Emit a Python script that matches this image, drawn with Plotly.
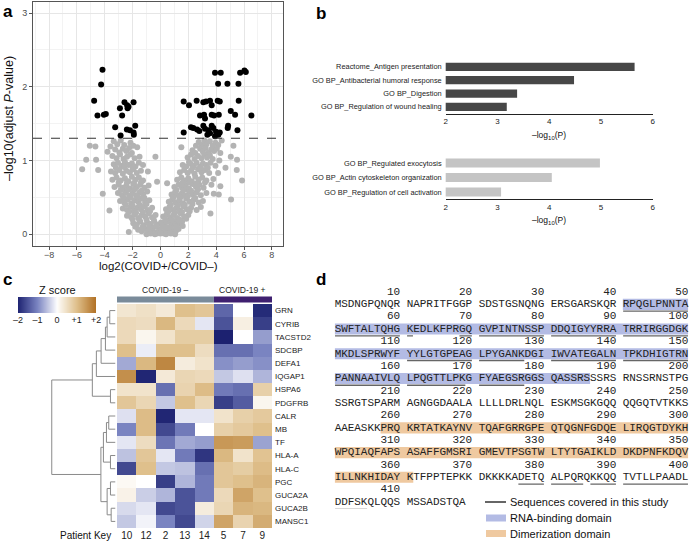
import math
import plotly.graph_objects as go

W, H = 694, 543
def px(x): return x / W
def py(y): return 1 - y / H

SANS = "Liberation Sans, Arial, sans-serif"
MONO = "Liberation Mono, Courier New, monospace"

# ---------------- Panel a: volcano data ----------------
sig_x = [-4.16, -4.26, -4.76, -4.52, -4.06, -3.92, -3.25, -2.91, -2.75, -2.58, -2.39, -2.29, -2.36,
         -2.41, -2.19, -1.93, -1.81, -1.93, -1.91, -2.86,
         3.92, 4.33, 5.72, 6.03, 6.13, 4.14, 4.81, 5.60, 1.67, 2.05, 2.60, 3.08, 3.27, 3.56, 3.68,
         4.11, 4.26, 5.62, 2.84, 3.13, 3.20, 3.68, 3.85, 4.19, 5.05, 5.36, 6.53, 2.19, 2.36, 2.63,
         2.79, 3.08, 3.20, 3.44, 3.68, 3.80, 3.99, 4.16, 4.26, 3.37, 3.56, 3.92, 4.86, 4.83, 5.53, 1.67]
sig_y = [2.23, 2.03, 1.81, 1.61, 1.62, 1.63, 1.45, 1.71, 1.61, 1.79, 1.75, 1.73, 1.71,
         1.42, 1.41, 1.79, 1.47, 1.38, 1.35, 1.34,
         2.19, 2.19, 2.19, 2.22, 2.20, 2.04, 2.04, 2.04, 1.80, 1.75, 1.81, 1.79, 1.80, 1.81, 1.75,
         1.81, 1.80, 1.81, 1.61, 1.62, 1.57, 1.62, 1.61, 1.62, 1.67, 1.62, 1.61, 1.45, 1.44, 1.42,
         1.40, 1.47, 1.43, 1.41, 1.47, 1.44, 1.39, 1.35, 1.38, 1.35, 1.37, 1.33, 1.47, 1.44, 1.41, 1.38]

ns_pts = [
    (-3.35,1.26),(-3.1,1.22),(-2.85,1.27),(-2.6,1.21),(-2.15,1.24),(-1.95,1.2),(2.75,1.25),(2.95,1.21),
    (3.15,1.27),(3.3,1.22),(3.55,1.26),(3.75,1.2),(3.95,1.24),(4.15,1.21),(4.4,1.27),(2.55,1.2),
    (5.24,1.2),(-5.07,1.2),(-4.67,1.19),(-3.59,1.19),(-1.67,1.18),(1.5,1.18),
    (-3.8,1.12),(-3.25,1.15),(-2.95,1.11),(-2.7,1.16),(-2.45,1.13),(-2.25,1.17),(-2.05,1.1),(2.3,1.14),
    (2.5,1.1),(2.85,1.16),(3.05,1.12),(3.25,1.17),(3.45,1.11),(3.65,1.15),(3.85,1.13),(4.05,1.16),(4.3,1.1),
    (-5.33,1.01),(-4.62,1.01),(-3.45,1.06),(-3.15,1.03),(-2.9,1.08),(-2.65,1.02),(-2.4,1.05),(-2.15,1.08),
    (-1.85,1.03),(-1.5,1.05),(-0.36,1.05),(1.95,1.04),(2.2,1.08),(2.45,1.02),(2.7,1.06),(2.95,1.03),
    (3.15,1.08),(3.35,1.04),(3.55,1.07),(3.75,1.02),(4.23,1.0),(5.05,1.05),(5.5,1.01),(2.05,0.98),
    (-3.35,0.95),(-3.05,0.97),(-2.8,0.93),(-2.55,0.98),(-2.3,0.94),(-2.05,0.96),(-1.8,0.92),(-1.55,0.97),
    (-1.25,0.94),(1.6,0.94),(1.85,0.92),(2.15,0.96),(2.4,0.93),(2.6,0.97),(2.85,0.92),(3.05,0.96),
    (3.3,0.94),(3.6,0.97),(3.95,0.93),(4.67,0.9),
    (-5.62,0.88),(-4.47,0.87),(-3.55,0.85),(-3.25,0.83),(-2.95,0.87),(-2.7,0.82),(-2.45,0.86),(-2.2,0.84),
    (-1.95,0.88),(-1.7,0.83),(-1.4,0.86),(-0.9,0.85),(1.4,0.84),(1.7,0.87),(1.95,0.83),(2.2,0.86),
    (2.45,0.82),(2.7,0.88),(2.95,0.84),(3.2,0.87),(3.5,0.83),(4.14,0.83),(5.48,0.87),
    (-3.45,0.74),(-3.15,0.77),(-2.85,0.73),(-2.55,0.76),(-2.3,0.72),(-2.05,0.78),(-1.8,0.74),(-1.55,0.77),
    (-1.25,0.73),(-0.24,0.71),(0.48,0.69),(1.2,0.74),(1.5,0.77),(1.75,0.73),(2.0,0.76),(2.25,0.72),
    (2.5,0.78),(2.75,0.74),(3.0,0.77),(3.3,0.73),(3.8,0.75),(5.86,0.73),
    (-3.3,0.64),(-3.0,0.67),(-2.7,0.63),(-2.45,0.66),(-2.2,0.62),(-1.95,0.68),(-1.7,0.64),(-1.45,0.67),
    (-1.15,0.63),(-0.85,0.66),(1.0,0.64),(1.3,0.67),(1.55,0.63),(1.8,0.66),(2.05,0.62),(2.3,0.68),
    (2.55,0.64),(2.8,0.67),(3.1,0.63),(3.66,0.67),(4.3,0.65),
    (-4.14,0.55),(-3.05,0.56),(-2.75,0.53),(-2.5,0.57),(-2.25,0.52),(-2.0,0.56),(-1.75,0.53),(-1.5,0.57),
    (-1.25,0.54),(-0.95,0.58),(0.8,0.54),(1.05,0.57),(1.3,0.53),(1.55,0.56),(1.8,0.52),(2.05,0.58),
    (2.3,0.54),(2.6,0.57),(2.9,0.53),(3.3,0.56),(3.83,0.55),(4.19,0.54),(5.07,0.47),
    (-2.9,0.45),(-2.6,0.43),(-2.35,0.47),(-2.1,0.42),(-1.85,0.46),(-1.6,0.44),(-1.35,0.48),(-1.1,0.43),
    (-0.8,0.46),(0.6,0.44),(0.85,0.47),(1.1,0.43),(1.35,0.46),(1.6,0.42),(1.85,0.48),(2.1,0.44),
    (2.4,0.47),(2.75,0.43),(3.05,0.45),
    (-3.66,0.32),(-2.7,0.35),(-2.4,0.33),(-2.15,0.37),(-1.9,0.32),(-1.65,0.36),(-1.4,0.34),(-1.15,0.38),
    (-0.9,0.33),(-0.6,0.36),(0.4,0.34),(0.65,0.37),(0.9,0.33),(1.15,0.36),(1.4,0.32),(1.65,0.38),
    (1.9,0.34),(2.2,0.36),(2.6,0.33),(2.9,0.37),
    (-2.4,0.25),(-2.1,0.23),(-1.85,0.27),(-1.6,0.22),(-1.35,0.26),(-1.1,0.24),(-0.85,0.28),(-0.6,0.23),
    (-0.35,0.26),(0.2,0.24),(0.45,0.27),(0.7,0.23),(0.95,0.26),(1.2,0.22),(1.45,0.28),(1.7,0.24),
    (2.0,0.26),(3.59,0.28),
    (-1.95,0.15),(-1.7,0.13),(-1.45,0.17),(-1.2,0.12),(-0.95,0.16),(-0.7,0.14),(-0.45,0.18),(-0.2,0.13),
    (0.05,0.16),(0.3,0.14),(0.55,0.17),(0.8,0.12),(1.05,0.16),(1.3,0.14),(1.55,0.17),
    (-2.27,0.03),(-1.6,0.06),(-1.35,0.04),(-1.1,0.07),(-0.85,0.03),(-0.6,0.05),(-0.35,0.02),(-0.1,0.06),
    (0.1,0.03),(0.35,0.05),(0.6,0.02),(0.85,0.06),(1.1,0.04),(1.3,0.07),(-0.25,0.01),(0.25,0.01),
    (-0.5,0.09),(0.5,0.09),
    (-3.2,0.9),(-2.6,0.91),(-2.0,0.9),(2.3,0.9),(2.9,0.9),(3.4,0.9),
    (-3.0,0.7),(-2.4,0.7),(-1.9,0.69),(-1.4,0.7),(1.6,0.7),(2.1,0.7),(2.6,0.69),(3.2,0.7),
    (-2.85,0.6),(-2.35,0.6),(-1.85,0.61),(-1.35,0.59),(1.15,0.6),(1.7,0.6),(2.2,0.59),(2.7,0.61),
    (-2.65,0.5),(-2.15,0.5),(-1.65,0.51),(-1.15,0.49),(0.95,0.5),(1.45,0.5),(1.95,0.51),(2.5,0.49),
    (-2.5,0.4),(-2.0,0.39),(-1.5,0.4),(-1.0,0.41),(0.75,0.4),(1.25,0.39),(1.75,0.4),(2.3,0.41),
    (-2.25,0.3),(-1.75,0.29),(-1.25,0.3),(-0.75,0.31),(0.55,0.3),(1.05,0.29),(1.55,0.3),(2.1,0.31),
    (-2.0,0.2),(-1.5,0.19),(-1.0,0.2),(-0.5,0.21),(0.35,0.2),(0.85,0.19),(1.35,0.2),(1.85,0.21),
    (-1.8,0.1),(-1.3,0.09),(-0.8,0.1),(-0.3,0.11),(0.15,0.1),(0.65,0.09),(1.15,0.1),(1.6,0.11),
    (-1.0,0.0),(-0.7,0.01),(-0.4,0.0),(0.0,0.01),(0.4,0.0),(0.75,0.01),(1.05,0.0),
]
ns_x = [p[0] for p in ns_pts]
ns_y = [p[1] for p in ns_pts]
padj_cut = 0.05

# ---------------- Panel b: enrichment ----------------
up_terms = ["Reactome_Antigen presentation", "GO BP_Antibacterial humoral response",
            "GO BP_Digestion", "GO BP_Regulation of wound healing"]
up_vals = [5.65, 4.48, 3.38, 3.18]
down_terms = ["GO BP_Regulated exocytosis", "GO BP_Actin cytoskeleton organization",
              "GO BP_Regulation of cell activation"]
down_vals = [4.98, 4.05, 3.07]

# ---------------- Panel c: heatmap ----------------
genes = ["GRN", "CYRIB", "TACSTD2", "SDCBP", "DEFA1", "IQGAP1", "HSPA6", "PDGFRB", "CALR", "MB",
         "TF", "HLA-A", "HLA-C", "PGC", "GUCA2A", "GUCA2B", "MANSC1"]
patients = ["10", "12", "2", "13", "14", "5", "7", "9"]
groups = ["COVID-19 –"] * 5 + ["COVID-19 +"] * 3
zscores = [
    [0.4, 0.5, 0.35, 1.0, 0.9, -1.3, 0.0, -1.9],
    [0.6, 0.55, 1.1, 0.6, -0.2, -1.5, 0.25, -1.7],
    [0.6, 0.15, 0.45, 0.8, 0.8, -2.0, 0.0, -0.8],
    [1.0, -0.15, 1.0, 1.0, 0.55, -1.2, -1.2, -1.0],
    [-0.7, 1.1, 1.7, 0.3, 0.45, -0.9, -0.8, -0.9],
    [1.6, -1.95, 0.35, 0.65, 0.6, -0.45, -0.25, -0.6],
    [0.45, 0.45, -1.2, 0.7, 1.05, -1.1, -1.2, 0.75],
    [0.9, 0.65, -0.45, 1.0, 0.65, -1.7, -1.4, 0.15],
    [-0.25, 1.05, -1.95, -0.2, -0.2, 0.45, 0.75, 0.85],
    [-1.0, 1.05, -1.6, -1.1, 0.0, 0.75, 0.85, 1.0],
    [-0.2, 0.55, -1.15, -0.7, -0.8, 1.5, 1.45, -0.75],
    [-0.5, 0.9, -0.2, -1.1, -1.8, 1.1, 0.45, 0.95],
    [-1.6, 1.0, -0.45, -0.5, -1.2, 0.9, 0.8, 1.05],
    [0.1, 0.0, -1.7, -0.6, -1.1, 0.9, 1.0, 1.15],
    [0.2, -0.4, -0.6, -1.5, -1.1, 0.6, 1.35, 1.0],
    [-0.3, -0.2, -1.6, -1.5, 0.3, 0.65, 1.15, 1.1],
    [-0.45, -0.1, -1.0, -1.6, -0.35, 1.35, 0.7, 1.25],
]
zscale_ticks = [-2, -1, 0, 1, 2]
zscale_labels = ["–2", "–1", "0", "+1", "+2"]
# dendrogram merges: (child_a, child_b, height); leaves 0..16, merges numbered from 17
merges = [(0, 1, 5.7), (17, 2, 8.3), (18, 3, 10.0), (19, 4, 14.3), (20, 5, 19.0), (6, 7, 5.0),
          (21, 22, 23.0), (8, 9, 6.7), (24, 10, 9.0), (11, 12, 5.0), (25, 26, 12.0), (13, 14, 5.0),
          (15, 16, 4.3), (28, 29, 8.3), (27, 30, 14.5), (23, 31, 63.3)]

# ---------------- Panel d: sequence ----------------
sequence = ("MSDNGPQNQRNAPRITFGGPSDSTGSNQNGERSGARSKQRRPQGLPNNTA"
            "SWFTALTQHGKEDLKFPRGQGVPINTNSSPDDQIGYYRRATRRIRGGDGK"
            "MKDLSPRWYFYYLGTGPEAGLPYGANKDGIIWVATEGALNTPKDHIGTRN"
            "PANNAAIVLQLPQGTTLPKGFYAEGSRGGSQASSRSSSRSRNSSRNSTPG"
            "SSRGTSPARMAGNGGDAALALLLLDRLNQLESKMSGKGQQQQGQTVTKKS"
            "AAEASKKPRQKRTATKAYNVTQAFGRRGPEQTQGNFGDQELIRQGTDYKH"
            "WPQIAQFAPSASAFFGMSRIGMEVTPSGTWLTYTGAIKLDDKDPNFKDQV"
            "ILLNKHIDAYKTFPPTEPKKDKKKKADETQALPQRQKKQQTVTLLPAADL"
            "DDFSKQLQQSMSSADSTQA")
rna_binding = (41, 186)
dimerization = (258, 361)
covered = [(41, 61), (69, 100), (111, 127), (131, 150), (151, 169), (171, 177),
           (377, 385), (387, 400), (401, 405)]

HEAT_SCALE = [[0, "#1c2170"], [0.25, "#7a84c1"], [0.5, "#ffffff"], [0.75, "#dfc08c"], [1, "#b06f22"]]

fig = go.Figure()

# ===== Panel a =====
thr = -math.log10(padj_cut)
fig.add_trace(go.Scatter(x=ns_x, y=ns_y, mode="markers", xaxis="x", yaxis="y",
                         marker=dict(size=6, color="#b3b3b3"), hoverinfo="skip", showlegend=False))
fig.add_trace(go.Scatter(x=sig_x, y=sig_y, mode="markers", xaxis="x", yaxis="y",
                         marker=dict(size=6, color="#000000"), hoverinfo="skip", showlegend=False))
fig.add_shape(type="line", xref="x domain", yref="y", x0=0, x1=1, y0=thr, y1=thr,
              line=dict(color="#333", width=1.1, dash="dash"))

# ===== Panel b =====
fig.add_trace(go.Bar(x=up_vals, y=list(range(len(up_terms))), orientation="h", xaxis="x2", yaxis="y2",
                     marker=dict(color="#474747", line=dict(width=0)), width=0.62,
                     hoverinfo="skip", showlegend=False))
fig.add_trace(go.Bar(x=down_vals, y=list(range(len(down_terms))), orientation="h", xaxis="x3", yaxis="y3",
                     marker=dict(color="#c4c4c4", line=dict(width=0)), width=0.62,
                     hoverinfo="skip", showlegend=False))

# ===== Panel c =====
fig.add_trace(go.Heatmap(z=zscores, x=list(range(len(patients))), y=list(range(len(genes))),
                         xaxis="x4", yaxis="y4", colorscale=HEAT_SCALE, zmin=-2, zmax=2, showscale=False,
                         hoverinfo="skip"))
# colour key (gradient strip)
key_vals = [v / 20 for v in range(-40, 41)]
fig.add_trace(go.Heatmap(z=[key_vals], x=key_vals, y=[0], xaxis="x7", yaxis="y7", colorscale=HEAT_SCALE,
                         zmin=-2, zmax=2, showscale=False, hoverinfo="skip"))

pos = {i: float(i) for i in range(len(genes))}
hgt = {i: 0.0 for i in range(len(genes))}
dx, dy = [], []
for k, (a, b, h) in enumerate(merges):
    node = len(genes) + k
    dx += [hgt[a], h, h, hgt[b], None]
    dy += [pos[a], pos[a], pos[b], pos[b], None]
    pos[node] = (pos[a] + pos[b]) / 2
    hgt[node] = h
fig.add_trace(go.Scatter(x=dx, y=dy, mode="lines", xaxis="x5", yaxis="y5",
                         line=dict(color="#8a8a8a", width=1), hoverinfo="skip", showlegend=False))
# group annotation bar
grp_colors = {"COVID-19 –": "#7a8b9a", "COVID-19 +": "#3f2070"}
start = 0
for i in range(1, len(groups) + 1):
    if i == len(groups) or groups[i] != groups[start]:
        fig.add_shape(type="rect", xref="x4", yref="paper", x0=start - 0.5, x1=i - 0.5,
                      y0=py(302.5), y1=py(296.5), fillcolor=grp_colors[groups[start]], line=dict(width=0))
        fig.add_annotation(xref="x4", yref="paper", x=(start + i - 1) / 2, y=py(290), text=groups[start],
                           showarrow=False, font=dict(family=SANS, size=8.5, color="#222"))
        start = i

# ===== Panel d =====
def col_of(k):
    p = (k - 1) % 50
    return (p // 10) * 11 + p % 10
def row_of(k):
    return (k - 1) // 50

tx, ty, tt = [], [], []
for k, ch in enumerate(sequence, start=1):
    tx.append(col_of(k)); ty.append(2 * row_of(k) + 1); tt.append(ch)
    if k % 10 == 0:
        s = str(k)
        for i, d in enumerate(s):
            tx.append(col_of(k) - (len(s) - 1 - i)); ty.append(2 * row_of(k)); tt.append(d)
fig.add_trace(go.Scatter(x=tx, y=ty, text=tt, mode="text", xaxis="x6", yaxis="y6",
                         textfont=dict(family=MONO, size=11, color="#222"),
                         hoverinfo="skip", showlegend=False, cliponaxis=False))
for (a, b), colr in [(rna_binding, "#b3bbe4"), (dimerization, "#efc9a0")]:
    for r in range(row_of(a), row_of(b) + 1):
        s = max(a, r * 50 + 1); e = min(b, r * 50 + 50)
        fig.add_shape(type="rect", xref="x6", yref="y6", x0=col_of(s) - 0.5, x1=col_of(e) + 0.5,
                      y0=2 * r + 1 - 0.45, y1=2 * r + 1 + 0.45, fillcolor=colr, line=dict(width=0),
                      layer="below")
for a, b in covered:
    k = a
    while k <= b:
        blk_end = min(b, ((k - 1) // 10) * 10 + 10)
        r = row_of(k)
        fig.add_shape(type="line", xref="x6", yref="y6", x0=col_of(k) - 0.45, x1=col_of(blk_end) + 0.45,
                      y0=2 * r + 1.55, y1=2 * r + 1.55, line=dict(color="#666", width=1.4))
        k = blk_end + 1

# legend for panel d
fig.add_shape(type="line", xref="paper", yref="paper", x0=px(485), x1=px(506), y0=py(502), y1=py(502),
              line=dict(color="#000", width=1.2))
fig.add_shape(type="rect", xref="paper", yref="paper", x0=px(486), x1=px(506), y0=py(521.5), y1=py(514.5),
              fillcolor="#b3bbe4", line=dict(width=0))
fig.add_shape(type="rect", xref="paper", yref="paper", x0=px(486), x1=px(506), y0=py(537), y1=py(530),
              fillcolor="#efc9a0", line=dict(width=0))
for yy, txt in [(502, "Sequences covered in this study"), (518, "RNA-binding domain"), (533.5, "Dimerization domain")]:
    fig.add_annotation(xref="paper", yref="paper", x=px(508), y=py(yy), text=txt, showarrow=False,
                       xanchor="left", yanchor="middle", font=dict(family=SANS, size=11, color="#111"))

# ===== annotations: titles and panel letters =====
ann = [
    dict(x=px(158), y=py(266), text="log2(COVID+/COVID–)", size=11.5, angle=0),
    dict(x=px(9), y=py(119), text="–log10(adjust <i>P</i>-value)", size=12.5, angle=-90),
    dict(x=px(549), y=py(135), text="–log<sub>10</sub>(P)", size=8.5, angle=0),
    dict(x=px(549), y=py(221), text="–log<sub>10</sub>(P)", size=8.5, angle=0),
    dict(x=px(85), y=py(535), text="Patient Key", size=10, angle=0),
    dict(x=px(57), y=py(290), text="Z score", size=11, angle=0),
]
for a in ann:
    fig.add_annotation(xref="paper", yref="paper", x=a["x"], y=a["y"], text=a["text"], showarrow=False,
                       textangle=a["angle"], xanchor="center", yanchor="middle",
                       font=dict(family=SANS, size=a["size"], color="#111"))
for (x, y, t) in [(8, 12, "a"), (321, 13, "b"), (8, 279, "c"), (321, 279, "d")]:
    fig.add_annotation(xref="paper", yref="paper", x=px(x), y=py(y), text="<b>%s</b>" % t, showarrow=False,
                       xanchor="center", yanchor="middle", font=dict(family=SANS, size=17, color="#000"))

hidden = dict(visible=False, showgrid=False, zeroline=False, automargin=False)
common = dict(automargin=False)
fig.update_layout(
    width=W, height=H, margin=dict(l=0, r=0, t=0, b=0, autoexpand=False),
    paper_bgcolor="white", plot_bgcolor="white", showlegend=False,
    font=dict(family=SANS, color="#222"),
    xaxis=dict(domain=[px(33), px(283)], anchor="y", range=[-9.15, 8.8], tick0=0, dtick=2, showgrid=True,
               gridcolor="#e6e6e6", gridwidth=1, minor=dict(dtick=1, showgrid=True, gridcolor="#f3f3f3"),
               zeroline=False, showline=True, mirror=True, linecolor="#555", linewidth=1,
               ticks="outside", ticklen=3, tickcolor="#555", tickfont=dict(size=9, color="#4d4d4d"),
               ticklabelstandoff=-3, **common),
    yaxis=dict(domain=[py(246), py(2)], anchor="x", range=[-0.16, 3.15], tick0=0, dtick=1, showgrid=True,
               gridcolor="#e6e6e6", gridwidth=1, minor=dict(dtick=0.5, showgrid=True, gridcolor="#f3f3f3"),
               zeroline=False, showline=True, mirror=True, linecolor="#555", linewidth=1,
               ticks="outside", ticklen=3, tickcolor="#555", tickfont=dict(size=9, color="#4d4d4d"), **common),
    xaxis2=dict(domain=[px(445.7), px(652.7)], anchor="y2", range=[2, 6], dtick=1, showgrid=False,
                zeroline=False, showline=True, linecolor="#222", linewidth=1.2, ticks="",
                tickfont=dict(size=8, color="#222"), **common),
    yaxis2=dict(domain=[py(113.5), py(60.2)], anchor="x2", range=[3.5, -0.5],
                tickvals=list(range(len(up_terms))), ticktext=up_terms, showgrid=False, zeroline=False,
                showline=False, ticks="", tickfont=dict(size=7.4, color="#222"), ticklabelstandoff=3, **common),
    xaxis3=dict(domain=[px(445.7), px(652.7)], anchor="y3", range=[2, 6], dtick=1, showgrid=False,
                zeroline=False, showline=True, linecolor="#222", linewidth=1.2, ticks="",
                tickfont=dict(size=8, color="#222"), **common),
    yaxis3=dict(domain=[py(199.3), py(155.8)], anchor="x3", range=[2.5, -0.5],
                tickvals=list(range(len(down_terms))), ticktext=down_terms, showgrid=False, zeroline=False,
                showline=False, ticks="", tickfont=dict(size=7.4, color="#222"), ticklabelstandoff=3, **common),
    xaxis4=dict(domain=[px(117), px(272)], anchor="y4", range=[-0.5, 7.5], tickvals=list(range(len(patients))),
                ticktext=patients, showgrid=False, zeroline=False, ticks="",
                tickfont=dict(size=10, color="#222"), **common),
    yaxis4=dict(domain=[py(528), py(304)], anchor="x4", range=[16.5, -0.5], tickvals=list(range(len(genes))),
                ticktext=genes, side="right", showgrid=False, zeroline=False, ticks="",
                tickfont=dict(size=8, color="#222"), ticklabelstandoff=2, **common),
    xaxis5=dict(domain=[px(45), px(115.5)], anchor="y5", range=[70, 0], **hidden),
    yaxis5=dict(domain=[py(528), py(304)], anchor="x5", range=[16.5, -0.5], **hidden),
    xaxis6=dict(domain=[px(334.7), px(688.3)], anchor="y6", range=[-0.5, 53.5], **hidden),
    yaxis6=dict(domain=[py(508.2), py(285.8)], anchor="x6", range=[17.5, -0.5], **hidden),
    xaxis7=dict(domain=[px(18), px(96)], anchor="y7", range=[-2, 2], tickvals=zscale_ticks,
                ticktext=zscale_labels, showgrid=False, zeroline=False, showline=False, ticks="",
                tickfont=dict(size=9, color="#222"), **common),
    yaxis7=dict(domain=[py(313), py(297)], anchor="x7", range=[-0.5, 0.5], **hidden),
)

fig.write_html("out.html", config={"displayModeBar": False},
               post_script="document.body.style.margin='0px';document.body.style.overflow='hidden';")
